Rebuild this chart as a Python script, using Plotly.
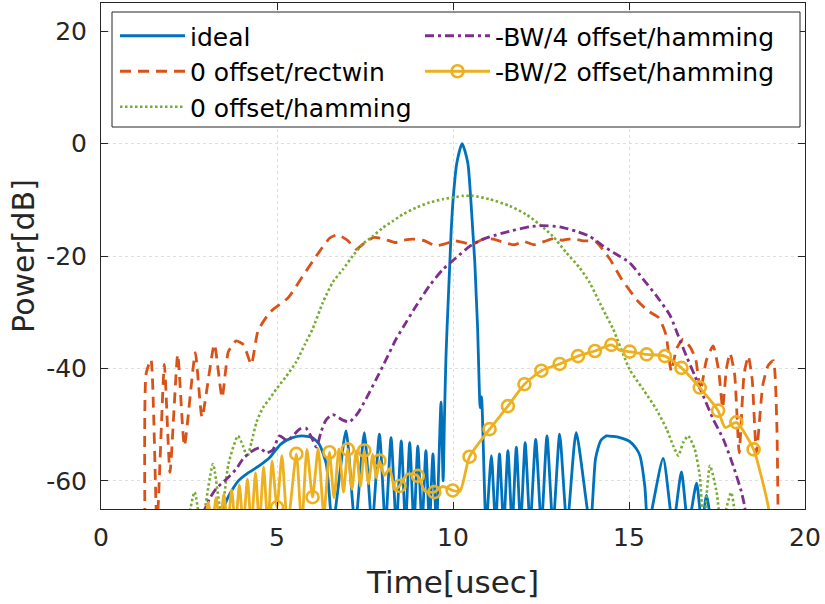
import plotly.graph_objects as go

# ---------------- data ----------------
x_tick_vals = [0, 5, 10, 15, 20]
x_tick_text = ["0", "5", "10", "15", "20"]
y_tick_vals = [-60, -40, -20, 0, 20]
y_tick_text = ["-60", "-40", "-20", "0", "20"]

ideal_t = [3.3, 3.6, 3.9, 4.2, 4.5, 4.8, 5.1, 5.4, 5.7, 6.0, 6.2, 6.4, 6.58,
           6.96, 7.22, 7.48, 7.70, 7.91, 8.08, 8.24, 8.39, 8.53, 8.65, 8.77, 8.89,
           9.0, 9.12, 9.23, 9.33, 9.43, 9.53, 9.66, 9.72,
           9.76, 9.8, 9.83, 9.87, 9.91, 9.95, 10.01, 10.11, 10.26, 10.42, 10.5,
           10.56, 10.62, 10.66, 10.7, 10.74, 10.77, 10.81, 10.94,
           11.09, 11.21, 11.32, 11.44, 11.56, 11.68, 11.8, 11.92, 12.05, 12.19,
           12.35, 12.51, 12.67, 12.84, 13.03, 13.24, 13.5, 13.9,
           14.05, 14.2, 14.36, 14.55, 14.74, 15.02, 15.2, 15.31, 15.45, 15.54,
           15.97, 16.25, 16.49, 16.68, 16.92, 17.07, 17.2, 17.34]
ideal_db = [-68, -63, -60, -58.5, -57.3, -55.8, -53.5, -52.4, -52.0, -52.3, -53.5, -57, -68,
            -51.1, -68, -51.4, -68, -51.7, -68, -52.3, -68, -52.9, -68, -53.2, -68,
            -53.8, -68, -54.6, -68, -55.2, -68, -46.0, -60,
            -48, -38, -33.0, -27.1, -21.2, -15.3, -9.4, -3.4, 0.0, -3.4, -9.4,
            -15.3, -21.2, -27.1, -33.0, -42, -47, -45, -68,
            -55.5, -68, -55.2, -68, -54.6, -68, -54.0, -68, -53.2, -68,
            -52.6, -68, -52.0, -68, -51.7, -68, -51.4, -68,
            -56, -52.8, -52.0, -52.1, -52.3, -53.0, -54.2, -55.5, -61, -68,
            -56.0, -68, -58.4, -68, -60.4, -68, -62.6, -68]

rect_t = [1.25, 1.28, 1.42, 1.59, 1.8, 1.96, 2.18, 2.37, 2.68, 2.87, 3.22, 3.44,
          3.62, 3.84, 4.05, 4.27, 4.46, 4.8, 5.32, 5.74, 6.15, 6.5, 6.72,
          7.0, 7.25, 7.5, 7.75, 8.05, 8.35, 8.6, 8.88, 9.2, 9.5, 9.75, 10.05,
          10.35, 10.6, 10.85, 11.15, 11.45, 11.75, 12.0, 12.3, 12.6, 12.85, 13.1,
          13.4, 13.7, 14.05, 14.45, 14.8, 15.25, 15.55, 15.85, 16.05, 16.2,
          16.35, 16.54, 16.75, 16.9, 17.03, 17.2, 17.39, 17.55, 17.66, 17.77,
          17.87, 18.0, 18.13, 18.27, 18.39, 18.5, 18.62, 18.8, 18.95, 19.1, 19.2, 19.24]
rect_db = [-70, -41, -38.4, -68, -39.3, -58.5, -37.5, -53.8, -37.2, -48.7, -35.7, -45.2,
           -37.0, -35.1, -35.8, -39.3, -33.3, -30.0, -27.4, -23.5, -19.7, -16.8, -16.2,
           -17.2, -18.8, -17.6, -16.7, -17.0, -17.6, -17.2, -17.0, -17.3, -18.2, -17.9, -17.3,
           -17.7, -17.8, -17.0, -17.0, -17.6, -18.0, -17.4, -18.0, -17.4, -16.9, -17.2,
           -16.9, -17.3, -17.4, -20.5, -24.2, -28.0, -29.8, -31.0, -34.0, -40.5,
           -36.5, -34.8, -36.3, -38.5, -44.0, -38.5, -36.0, -40.5, -47.0, -40.0,
           -37.3, -41.0, -55.0, -41.0, -37.8, -42.0, -55.0, -43.0, -39.5, -38.6, -50.0, -70]

ham_t = [2.45, 2.66, 2.85, 3.18, 3.42, 3.62, 3.89, 4.05, 4.15, 4.28, 4.42, 4.6,
         4.8, 5.0, 5.25, 5.55, 5.8, 6.01, 6.3, 6.58, 6.87, 7.15, 7.43, 7.72,
         8.0, 8.29, 8.57, 8.95, 9.33, 9.71, 10.09, 10.3, 10.56, 11.04, 11.61,
         12.08, 12.46, 12.84, 13.22, 13.6, 13.88, 14.12, 14.36, 14.55, 15.02,
         15.4, 15.78, 16.07, 16.26, 16.4, 16.54, 16.68, 16.87, 17.01, 17.12,
         17.3, 17.49, 17.62, 17.9, 18.05]
ham_db = [-68, -62.0, -68, -57.0, -66, -57, -52.0, -54.0, -55.8, -53.0, -49.5, -47.0,
          -45.3, -43.5, -41.5, -38.8, -35.6, -33.0, -28.3, -24.7, -22.4, -20.0, -17.9, -16.5,
          -15.0, -13.8, -12.6, -11.4, -10.5, -9.9, -9.5, -9.3, -9.3, -9.9, -11.1,
          -12.6, -14.4, -16.5, -19.4, -22.1, -24.7, -27.7, -30.7, -33.0, -40.2,
          -43.7, -47.3, -50.8, -53.8, -55.5, -53.2, -52.0, -54.4, -59.1, -68,
          -57.3, -62.0, -68, -62.1, -68]

bw4_t = [2.89, 3.08, 3.27, 3.56, 3.84, 4.03, 4.22, 4.5, 4.7, 4.88, 5.07, 5.3,
         5.64, 5.82, 6.0, 6.12, 6.25, 6.39, 6.58, 6.87, 7.06, 7.29, 7.53, 7.82,
         8.1, 8.38, 8.6, 8.95, 9.33, 9.71, 10.09, 10.47, 10.75, 11.04, 11.61,
         12.18, 12.55, 13.03, 13.5, 13.88, 14.26, 14.64, 15.02, 15.4, 15.78,
         16.16, 16.4, 16.63, 16.87, 17.11, 17.39, 17.68, 17.96, 18.2, 18.29, 18.36]
bw4_db = [-66, -63.2, -61.4, -59.7, -57.9, -56.1, -55.0, -54.1, -55.0, -54.5, -52.0, -52.8,
          -50.8, -50.6, -52.5, -54.0, -51.3, -49.2, -48.2, -49.2, -49.5, -48.0, -45.4, -41.9,
          -38.4, -34.8, -32.5, -28.9, -25.3, -22.4, -20.3, -18.3, -17.3, -16.6, -15.6,
          -14.8, -14.6, -14.8, -15.6, -16.5, -18.2, -19.7, -21.2, -24.1, -27.1,
          -30.5, -34.2, -37.8, -41.3, -44.9, -49.0, -52.6, -57.3, -62.1, -64.7, -68]

bw2_t = [2.95, 3.05, 3.16, 3.27, 3.38, 3.49, 3.6, 3.71, 3.82, 3.93, 4.04, 4.16,
         4.27, 4.39, 4.5, 4.62, 4.74, 4.86,
         5.0, 5.14, 5.3, 5.55, 5.7, 5.85, 6.01, 6.17, 6.33, 6.49, 6.62, 6.76,
         6.89, 7.01, 7.13, 7.25, 7.37, 7.48, 7.6, 7.72, 7.82, 7.91, 8.05, 8.2,
         8.35, 8.48, 8.7, 9.0, 9.2, 9.47, 9.7, 9.99, 10.2, 10.47, 11.04, 11.56,
         12.03, 12.51, 13.03, 13.55, 14.03, 14.5, 14.75, 15.02, 15.5, 16.02,
         16.49, 17.01, 17.53, 17.73, 18.05, 18.54, 18.75, 18.96, 19.02]
bw2_db = [-68, -63.8, -68, -63.0, -68, -62.4, -68, -61.6, -68, -60.7, -68, -59.7,
          -68, -58.6, -68, -57.5, -68, -56.5,
          -64.7, -55.5, -68, -55.2, -68, -54.4, -62.9, -54.3, -66, -54.9, -63, -54.3,
          -62, -54.4, -61.5, -54.6, -61.0, -54.6, -60.5, -55.3, -59.5, -56.4, -59.0, -57.8,
          -61.5, -60.9, -58.8, -59.1, -61.8, -62.0, -61.0, -61.7, -61.8, -55.7, -50.8, -46.7,
          -42.8, -40.4, -39.2, -37.8, -36.9, -35.8, -36.8, -37.0, -37.5, -37.8,
          -39.9, -43.4, -47.5, -50.5, -49.6, -54.4, -59.0, -64.7, -68]
bw2_marker_t = [5.0, 5.55, 6.01, 6.49, 7.01, 7.48, 7.91, 8.48, 9.0, 9.47, 9.99,
                10.47, 11.04, 11.56, 12.03, 12.51, 13.03, 13.55, 14.03, 14.5,
                15.02, 15.5, 16.02, 16.49, 17.01, 17.53, 18.05, 18.54]

names = ["ideal", "0 offset/rectwin", "0 offset/hamming",
         "-BW/4 offset/hamming", "-BW/2 offset/hamming"]

for a, b in [(ideal_t, ideal_db), (rect_t, rect_db), (ham_t, ham_db),
             (bw4_t, bw4_db), (bw2_t, bw2_db)]:
    assert len(a) == len(b), (len(a), len(b))

# ---------------- style ----------------
BLUE, RED, GREEN = "#0072BD", "#D95319", "#77AC30"
PURPLE, YELLOW = "#7E2F8E", "#EDB120"
AX = "#262626"
FONT = "DejaVu Sans"
LW = 2.8

mk_idx = [bw2_t.index(v) for v in bw2_marker_t]
mk_x = [bw2_t[i] for i in mk_idx]
mk_y = [bw2_db[i] for i in mk_idx]

fig = go.Figure()
fig.add_trace(go.Scatter(x=ideal_t, y=ideal_db, mode="lines", name=names[0],
                         line=dict(color=BLUE, width=LW, shape="spline", smoothing=0.6),
                         legend="legend"))
fig.add_trace(go.Scatter(x=rect_t, y=rect_db, mode="lines", name=names[1],
                         line=dict(color=RED, width=LW, dash="11px,7px",
                                   shape="spline", smoothing=0.5),
                         legend="legend"))
fig.add_trace(go.Scatter(x=ham_t, y=ham_db, mode="lines", name=names[2],
                         line=dict(color=GREEN, width=2.6, dash="2.5px,2.5px",
                                   shape="spline", smoothing=0.6),
                         legend="legend"))
fig.add_trace(go.Scatter(x=bw4_t, y=bw4_db, mode="lines", name=names[3],
                         line=dict(color=PURPLE, width=LW, dash="9px,4px,3px,4px",
                                   shape="spline", smoothing=0.6),
                         legend="legend2"))
fig.add_trace(go.Scatter(x=bw2_t, y=bw2_db, mode="lines", name=names[4],
                         line=dict(color=YELLOW, width=LW, shape="spline", smoothing=0.6),
                         showlegend=False, legend="legend2"))
fig.add_trace(go.Scatter(x=mk_x, y=mk_y, mode="markers", name=names[4],
                         marker=dict(symbol="circle-open", size=12, color=YELLOW,
                                     line=dict(width=2.6, color=YELLOW)),
                         showlegend=False, legend="legend2"))
fig.add_trace(go.Scatter(x=[None], y=[None], mode="lines+markers", name=names[4],
                         line=dict(color=YELLOW, width=LW),
                         marker=dict(symbol="circle-open", size=12, color=YELLOW,
                                     line=dict(width=2.6, color=YELLOW)),
                         legend="legend2"))

L, R, T, B = 101, 20, 3, 95
W, H = 825, 604
pw, ph = W - L - R, H - T - B


def px_x(p):
    return (p - L) / pw


def px_y(p):
    return (H - B - p) / ph


fig.add_shape(type="rect", xref="paper", yref="paper",
              x0=px_x(112), x1=px_x(800), y0=px_y(127), y1=px_y(12),
              line=dict(color=AX, width=1), fillcolor="white", layer="above")

axis_common = dict(showline=True, linecolor=AX, linewidth=1, mirror="ticks",
                   ticks="inside", ticklen=7, tickwidth=1, tickcolor=AX,
                   showgrid=True, gridcolor="#dedede", griddash="dot", gridwidth=1,
                   zeroline=False, automargin=False,
                   tickfont=dict(family=FONT, size=25, color=AX))

fig.update_layout(
    width=W, height=H,
    margin=dict(l=L, r=R, t=T, b=B, autoexpand=False),
    paper_bgcolor="white", plot_bgcolor="white",
    font=dict(family=FONT, color=AX),
    xaxis=dict(range=[0, 20], tickvals=x_tick_vals, ticktext=x_tick_text,
               ticklabelstandoff=6,
               title=dict(text="Time[usec]", font=dict(family=FONT, size=31, color=AX),
                          standoff=20),
               **axis_common),
    yaxis=dict(range=[-65, 25], tickvals=y_tick_vals, ticktext=y_tick_text,
               ticklabelstandoff=8,
               title=dict(text="Power[dB]", font=dict(family=FONT, size=30, color=AX),
                          standoff=2),
               **axis_common),
    legend=dict(x=px_x(115), y=px_y(13), xanchor="left", yanchor="top",
                bgcolor="rgba(0,0,0,0)", borderwidth=0, itemwidth=65,
                font=dict(family=FONT, size=25, color="black"), tracegroupgap=0),
    legend2=dict(x=px_x(420), y=px_y(13), xanchor="left", yanchor="top",
                 bgcolor="rgba(0,0,0,0)", borderwidth=0, itemwidth=65,
                 font=dict(family=FONT, size=25, color="black"), tracegroupgap=0),
    showlegend=True,
)

fig.write_html(
    "out.html",
    config={"displayModeBar": False},
    post_script="document.body.style.margin='0';document.body.style.overflow='hidden';",
)
